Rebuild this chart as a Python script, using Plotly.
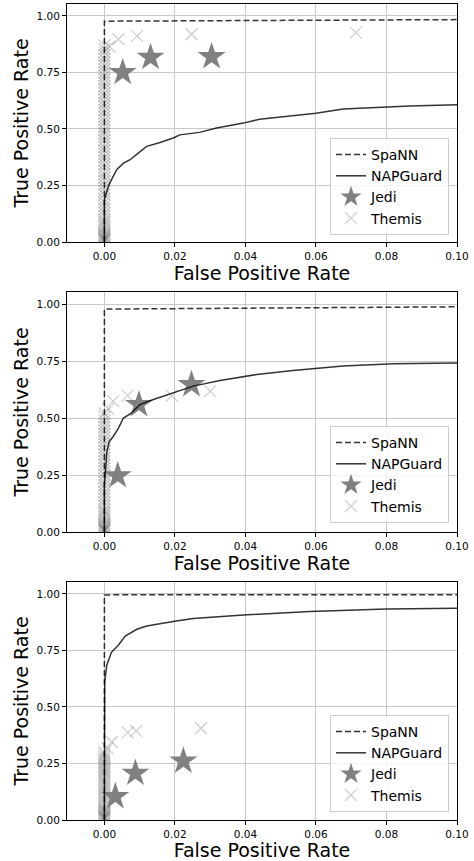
import plotly.graph_objects as go

# ---------------- data ----------------
panel_names = ["top", "middle", "bottom"]

spann_fpr = [[0.0, 0.0, 0.1], [0.0, 0.0, 0.1], [0.0, 0.0, 0.1]]
spann_tpr = [[0.0, 0.977, 0.984], [0.0, 0.978, 0.988], [0.0, 0.996, 0.997]]

nap_fpr_top = [0.0, 0.0, 0.0005, 0.0011, 0.002, 0.0035, 0.0054, 0.0073, 0.0096, 0.012, 0.0158,
               0.0195, 0.0214, 0.027, 0.0318, 0.0394, 0.044, 0.0535, 0.060, 0.0677, 0.077, 0.0866, 0.1]
nap_tpr_top = [0.0, 0.187, 0.212, 0.246, 0.275, 0.32, 0.349, 0.364, 0.393, 0.423, 0.44,
               0.46, 0.474, 0.485, 0.504, 0.526, 0.543, 0.558, 0.57, 0.588, 0.596, 0.602, 0.607]
nap_fpr_mid = [0.0, 0.0, 0.0003, 0.0007, 0.0014, 0.0025, 0.004, 0.0054, 0.0073, 0.0101, 0.0139,
               0.0195, 0.0252, 0.0328, 0.0432, 0.0535, 0.0677, 0.0819, 0.1]
nap_tpr_mid = [0.0, 0.206, 0.265, 0.353, 0.397, 0.419, 0.456, 0.5, 0.518, 0.559, 0.581,
               0.61, 0.64, 0.665, 0.691, 0.709, 0.728, 0.738, 0.741]
nap_fpr_bot = [0.0, 0.0, 0.0001, 0.0007, 0.002, 0.004, 0.0059, 0.0092, 0.012, 0.0195, 0.0252,
               0.0394, 0.0583, 0.08, 0.1]
nap_tpr_bot = [0.0, 0.494, 0.612, 0.686, 0.742, 0.774, 0.814, 0.844, 0.858, 0.878, 0.892,
               0.907, 0.922, 0.934, 0.937]

jedi_fpr = [[0.0052, 0.0131, 0.0304], [0.0038, 0.0098, 0.0247], [0.0031, 0.0088, 0.0224]]
jedi_tpr = [[0.75, 0.817, 0.82], [0.247, 0.559, 0.647], [0.104, 0.207, 0.261]]

themis_col_top = [0.003, 0.006, 0.01, 0.013, 0.017, 0.02, 0.025, 0.03, 0.035, 0.04, 0.05, 0.06,
                  0.07, 0.08, 0.09, 0.10, 0.115, 0.13, 0.145, 0.16, 0.175, 0.19, 0.21, 0.225,
                  0.24, 0.255, 0.27, 0.285, 0.30, 0.315, 0.33, 0.345, 0.36, 0.375, 0.39, 0.405,
                  0.42, 0.435, 0.45, 0.465, 0.48, 0.495, 0.51, 0.525, 0.54, 0.555, 0.57, 0.585,
                  0.60, 0.615, 0.63, 0.645, 0.66, 0.675, 0.69, 0.705, 0.72, 0.735, 0.75, 0.765,
                  0.78, 0.795, 0.81, 0.825, 0.84, 0.855, 0.87]
themis_col_mid = [0.003, 0.006, 0.01, 0.013, 0.017, 0.02, 0.025, 0.03, 0.035, 0.04, 0.05, 0.06,
                  0.07, 0.08, 0.09, 0.10, 0.115, 0.13, 0.145, 0.16, 0.175, 0.19, 0.205, 0.22,
                  0.235, 0.25, 0.265, 0.28, 0.295, 0.31, 0.325, 0.34, 0.355, 0.37, 0.385, 0.40,
                  0.415, 0.43, 0.445, 0.46, 0.475, 0.49, 0.505, 0.52]
themis_col_bot = [0.003, 0.006, 0.01, 0.013, 0.017, 0.02, 0.025, 0.03, 0.035, 0.04, 0.045, 0.05,
                  0.06, 0.07, 0.08, 0.09, 0.10, 0.11, 0.12, 0.13, 0.14, 0.15, 0.16, 0.17, 0.18,
                  0.19, 0.20, 0.21, 0.22, 0.23, 0.24, 0.25, 0.26, 0.27, 0.28, 0.29, 0.30]
themis_off_fpr = [[0.0014, 0.004, 0.0093, 0.0247, 0.0713],
                  [0.0011, 0.0025, 0.0066, 0.0191, 0.030],
                  [0.0009, 0.0021, 0.0066, 0.009, 0.0274]]
themis_off_tpr = [[0.865, 0.897, 0.912, 0.919, 0.926],
                  [0.54, 0.574, 0.598, 0.598, 0.618],
                  [0.317, 0.345, 0.388, 0.394, 0.406]]

x_ticks = [0.0, 0.02, 0.04, 0.06, 0.08, 0.10]
y_ticks = [0.0, 0.25, 0.50, 0.75, 1.00]
x_label = "False Positive Rate"
y_label = "True Positive Rate"

# ---------------- figure ----------------
nap_fpr = [nap_fpr_top, nap_fpr_mid, nap_fpr_bot]
nap_tpr = [nap_tpr_top, nap_tpr_mid, nap_tpr_bot]
themis_col = [themis_col_top, themis_col_mid, themis_col_bot]

fig = go.Figure()
FONT = "DejaVu Sans"
line_col = "rgba(0,0,0,0.8)"
grey = "#808080"
themis_col_c = "rgba(128,128,128,0.4)"

H = 861
mt, mb = 4, 41
plot_h = H - mt - mb
panels_px = [(4, 242), (292, 532), (582, 820)]
legend_bottom_px = [235, 523, 812]

for i in range(3):
    sfx = "" if i == 0 else str(i + 1)
    xa, ya = "x" + sfx, "y" + sfx
    leg = "legend" + sfx
    tx = [0.0] * len(themis_col[i]) + themis_off_fpr[i]
    ty = themis_col[i] + themis_off_tpr[i]
    fig.add_trace(go.Scatter(x=tx, y=ty, mode="markers", name="Themis", xaxis=xa, yaxis=ya,
                             legend=leg, legendrank=4,
                             marker=dict(symbol="x-thin", size=12, color=themis_col_c,
                                         line=dict(width=1.2, color=themis_col_c))))
    fig.add_trace(go.Scatter(x=jedi_fpr[i], y=jedi_tpr[i], mode="markers", name="Jedi",
                             xaxis=xa, yaxis=ya, legend=leg, legendrank=3,
                             marker=dict(symbol="star", size=21, color=grey, line=dict(width=0))))
    fig.add_trace(go.Scatter(x=nap_fpr[i], y=nap_tpr[i], mode="lines", name="NAPGuard",
                             xaxis=xa, yaxis=ya, legend=leg, legendrank=2,
                             line=dict(color=line_col, width=1.5)))
    fig.add_trace(go.Scatter(x=spann_fpr[i], y=spann_tpr[i], mode="lines", name="SpaNN",
                             xaxis=xa, yaxis=ya, legend=leg, legendrank=1,
                             line=dict(color=line_col, width=1.5, dash="6px,3px")))

    top_px, bot_px = panels_px[i]
    dom = [(H - mb - bot_px) / plot_h, (H - mb - top_px) / plot_h]
    axis_common = dict(showline=True, linecolor="black", linewidth=1, mirror=True,
                       ticks="outside", ticklen=4, tickcolor="black", tickwidth=1,
                       showgrid=True, gridcolor="#c8c8c8", gridwidth=1, zeroline=False,
                       tickfont=dict(family=FONT, size=10.5, color="black"),
                       automargin=False)
    fig.layout["xaxis" + sfx] = dict(axis_common, domain=[0, 1], range=[-0.0106, 0.1],
                                     tickvals=x_ticks, tickformat=".2f", anchor=ya,
                                     title=dict(text=x_label, standoff=3,
                                                font=dict(family=FONT, size=19, color="black")))
    fig.layout["yaxis" + sfx] = dict(axis_common, domain=dom, range=[0, 1.053],
                                     tickvals=y_ticks, tickformat=".2f", anchor=xa,
                                     title=dict(text=y_label, standoff=2,
                                                font=dict(family=FONT, size=19, color="black")))
    fig.layout[leg] = dict(x=(449 - 67) / 390, xanchor="right",
                           y=(H - mb - legend_bottom_px[i]) / plot_h, yanchor="bottom",
                           xref="paper", yref="paper",
                           bgcolor="rgba(255,255,255,0.8)", bordercolor="#cccccc", borderwidth=1,
                           font=dict(family=FONT, size=14, color="black"),
                           tracegroupgap=0)

fig.update_layout(width=474, height=H, margin=dict(l=67, r=17, t=mt, b=mb),
                  plot_bgcolor="white", paper_bgcolor="white", showlegend=True,
                  font=dict(family=FONT))

fig.write_html("out.html", config={"displayModeBar": False},
               post_script="document.body.style.margin='0';document.body.style.padding='0';")
